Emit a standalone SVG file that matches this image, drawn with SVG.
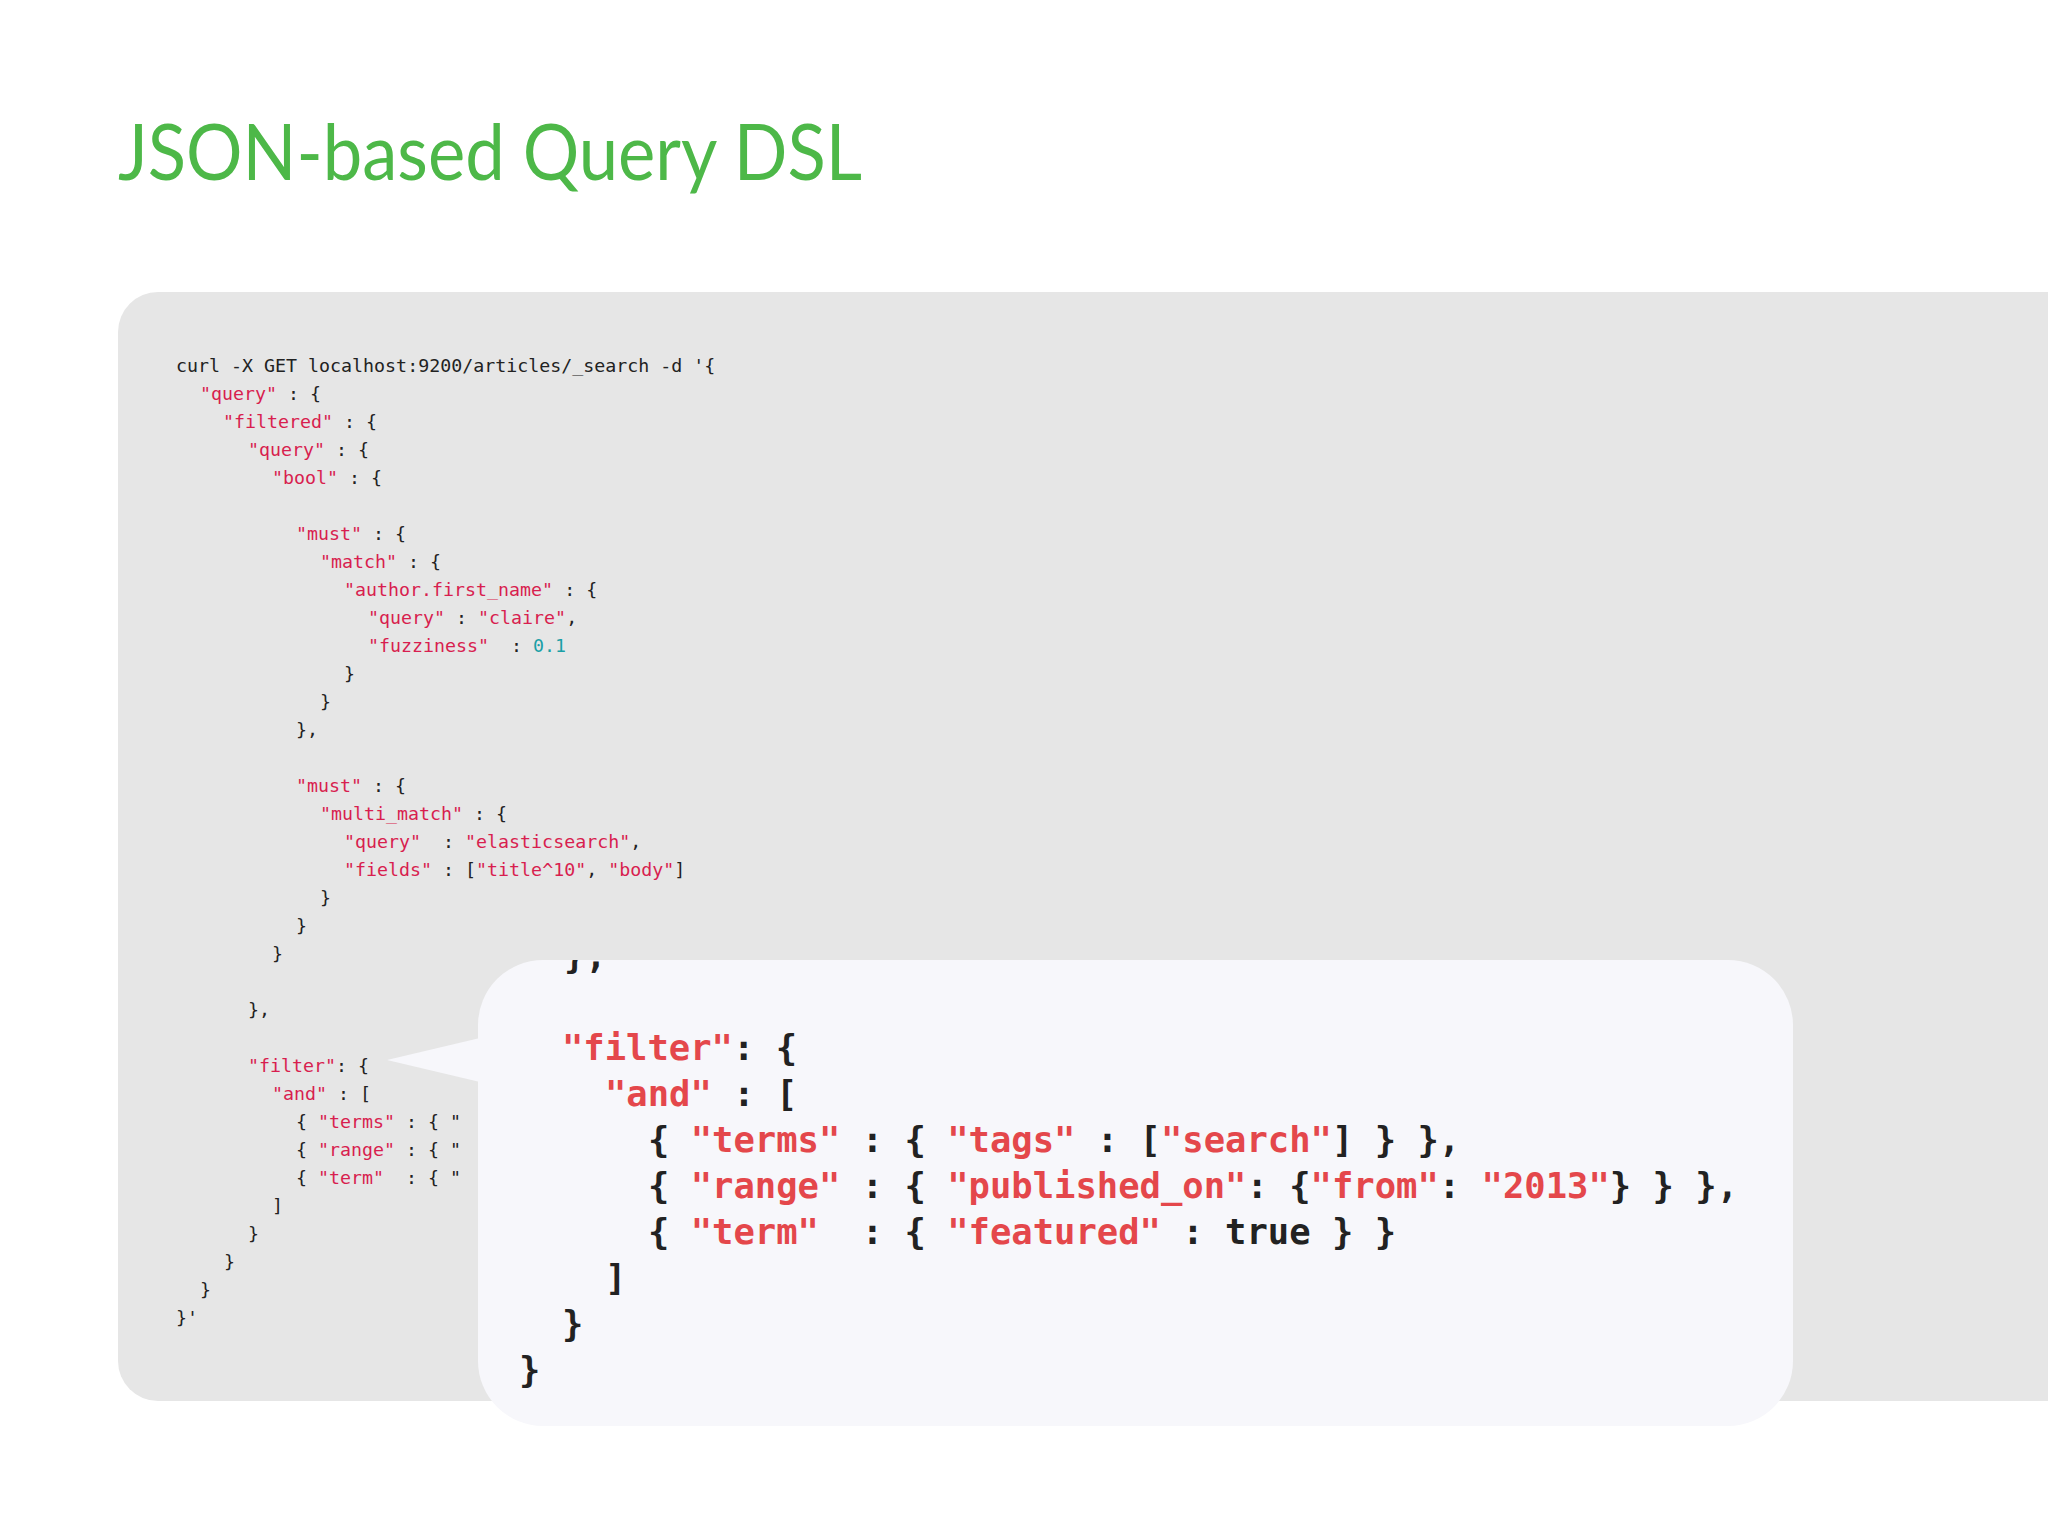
<svg xmlns="http://www.w3.org/2000/svg" width="2048" height="1536" viewBox="0 0 2048 1536" xml:space="preserve">
<style>
text{white-space:pre}
.c{font-family:"DejaVu Sans Mono","Liberation Mono",monospace;font-size:18.3px;fill:#222}
.k{fill:#d81e4f}
.n{fill:#1a9fa6}
.b{font-family:"DejaVu Sans Mono","Liberation Mono",monospace;font-size:35.5px;font-weight:bold;fill:#222}
.r{fill:#e4474b}
.t{font-family:Lato,"Open Sans","Liberation Sans",sans-serif;font-size:78px;fill:#4db848}
</style>
<defs>
<clipPath id="cc"><rect x="478" y="960" width="1315" height="466" rx="65"/></clipPath>
</defs>
<rect width="2048" height="1536" fill="#fff"/>
<text class="t" x="118" y="180" textLength="744" lengthAdjust="spacingAndGlyphs">JSON-based Query DSL</text>
<g id="panel">
<rect x="118" y="292" width="1990" height="1109" rx="40" fill="#e6e6e6"/>
<text class="c" x="176" y="372">curl -X GET localhost:9200/articles/_search -d '{</text>
<text class="c" x="200" y="400"><tspan class="k">"query"</tspan> : {</text>
<text class="c" x="223" y="428"><tspan class="k">"filtered"</tspan> : {</text>
<text class="c" x="248" y="456"><tspan class="k">"query"</tspan> : {</text>
<text class="c" x="272" y="484"><tspan class="k">"bool"</tspan> : {</text>
<text class="c" x="296" y="540"><tspan class="k">"must"</tspan> : {</text>
<text class="c" x="320" y="568"><tspan class="k">"match"</tspan> : {</text>
<text class="c" x="344" y="596"><tspan class="k">"author.first_name"</tspan> : {</text>
<text class="c" x="368" y="624"><tspan class="k">"query"</tspan> : <tspan class="k">"claire"</tspan>,</text>
<text class="c" x="368" y="652"><tspan class="k">"fuzziness"</tspan>  : <tspan class="n">0.1</tspan></text>
<text class="c" x="344" y="680">}</text>
<text class="c" x="320" y="708">}</text>
<text class="c" x="296" y="736">},</text>
<text class="c" x="296" y="792"><tspan class="k">"must"</tspan> : {</text>
<text class="c" x="320" y="820"><tspan class="k">"multi_match"</tspan> : {</text>
<text class="c" x="344" y="848"><tspan class="k">"query"</tspan>  : <tspan class="k">"elasticsearch"</tspan>,</text>
<text class="c" x="344" y="876"><tspan class="k">"fields"</tspan> : [<tspan class="k">"title^10"</tspan>, <tspan class="k">"body"</tspan>]</text>
<text class="c" x="320" y="904">}</text>
<text class="c" x="296" y="932">}</text>
<text class="c" x="272" y="960">}</text>
<text class="c" x="248" y="1016">},</text>
<text class="c" x="248" y="1072"><tspan class="k">"filter"</tspan>: {</text>
<text class="c" x="272" y="1100"><tspan class="k">"and"</tspan> : [</text>
<text class="c" x="296" y="1128">{ <tspan class="k">"terms"</tspan> : { "</text>
<text class="c" x="296" y="1156">{ <tspan class="k">"range"</tspan> : { "</text>
<text class="c" x="296" y="1184">{ <tspan class="k">"term"</tspan>  : { "</text>
<text class="c" x="272" y="1212">]</text>
<text class="c" x="248" y="1240">}</text>
<text class="c" x="224" y="1268">}</text>
<text class="c" x="200" y="1296">}</text>
<text class="c" x="176" y="1324">}'</text>
</g>
<g id="callout">
<polygon points="387,1060 480,1038 480,1082" fill="#f7f7fb"/>
<rect x="478" y="960" width="1315" height="466" rx="65" fill="#f7f7fb"/>
<g clip-path="url(#cc)">
<text class="b" x="564" y="968">},</text>
</g>
<text class="b" x="562" y="1060"><tspan class="r">"filter"</tspan>: {</text>
<text class="b" x="605" y="1106"><tspan class="r">"and"</tspan> : [</text>
<text class="b" x="648" y="1152">{ <tspan class="r">"terms"</tspan> : { <tspan class="r">"tags"</tspan> : [<tspan class="r">"search"</tspan>] } },</text>
<text class="b" x="648" y="1198">{ <tspan class="r">"range"</tspan> : { <tspan class="r">"published_on"</tspan>: {<tspan class="r">"from"</tspan>: <tspan class="r">"2013"</tspan>} } },</text>
<text class="b" x="648" y="1244">{ <tspan class="r">"term"</tspan>  : { <tspan class="r">"featured"</tspan> : true } }</text>
<text class="b" x="605" y="1290">]</text>
<text class="b" x="562" y="1336">}</text>
<text class="b" x="519" y="1382">}</text>
</g>
</svg>
